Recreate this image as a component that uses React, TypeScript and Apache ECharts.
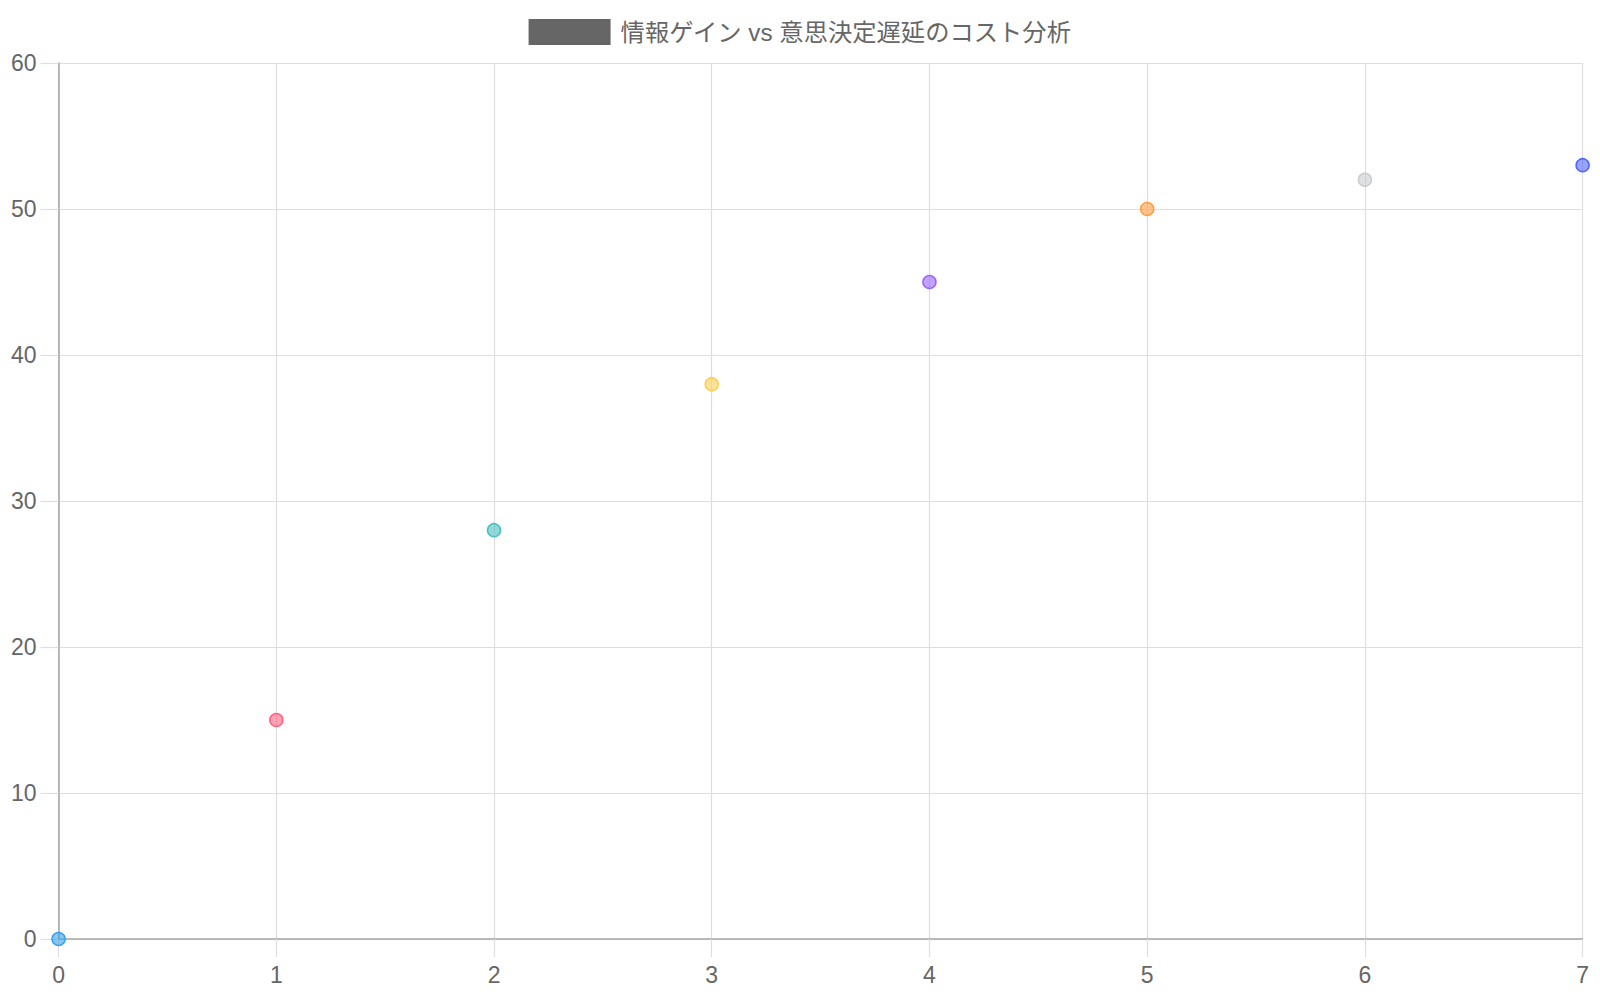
import React, { useRef, useEffect } from 'react'
import * as echarts from 'echarts'

// 情報取得量（x）と意思決定遅延のコスト（y）
const X_VALUES = [0, 1, 2, 3, 4, 5, 6, 7]
const Y_VALUES = [0, 15, 28, 38, 45, 50, 52, 53]

const POINT_COLORS = [
  [54, 162, 235],
  [255, 99, 132],
  [75, 192, 192],
  [255, 206, 86],
  [153, 102, 255],
  [255, 159, 64],
  [201, 203, 207],
  [83, 102, 255],
]

const SERIES_NAME = '情報ゲイン vs 意思決定遅延のコスト分析'

const FONT = "'Liberation Sans', Arial, 'Noto Sans CJK JP', sans-serif"
const TEXT_COLOR = '#666'
const GRID_COLOR = '#dedede'
const AXIS_COLOR = '#a6a6a6'

const App: React.FC = () => {
  const chartRef = useRef<HTMLDivElement>(null)

  useEffect(() => {
    if (!chartRef.current) return
    const chart = echarts.init(chartRef.current, null, { renderer: 'svg' })

    const points = X_VALUES.map((x, i) => {
      const [r, g, b] = POINT_COLORS[i]
      return {
        value: [x, Y_VALUES[i]],
        itemStyle: {
          color: `rgba(${r},${g},${b},0.6)`,
          borderColor: `rgb(${r},${g},${b})`,
          borderWidth: 1.5,
          opacity: 1,
        },
      }
    })

    chart.setOption({
      animation: false,
      backgroundColor: '#fff',
      textStyle: { fontFamily: FONT },
      legend: {
        top: 6,
        left: 'center',
        icon: 'rect',
        itemWidth: 82,
        itemHeight: 26,
        data: [
          {
            name: SERIES_NAME,
            itemStyle: { color: '#666', borderWidth: 0, opacity: 1 },
          },
        ],
        textStyle: {
          color: TEXT_COLOR,
          fontSize: 24.3,
          fontFamily: FONT,
          padding: [0, 0, 0, 5],
        },
      },
      grid: {
        left: 50,
        right: 5,
        top: 55,
        bottom: 53,
        containLabel: false,
      },
      xAxis: {
        type: 'value',
        min: 0,
        max: 7,
        interval: 1,
        axisLine: { show: true, onZero: false, lineStyle: { color: AXIS_COLOR, width: 1.5 } },
        axisTick: { show: true, length: 18, lineStyle: { color: GRID_COLOR, width: 1.2 } },
        splitLine: { show: true, lineStyle: { color: GRID_COLOR, width: 1.2 } },
        axisLabel: { color: TEXT_COLOR, fontSize: 23, margin: 24, fontFamily: FONT },
      },
      yAxis: {
        type: 'value',
        min: 0,
        max: 60,
        interval: 10,
        axisLine: { show: true, onZero: false, lineStyle: { color: AXIS_COLOR, width: 1.5 } },
        axisTick: { show: true, length: 18, lineStyle: { color: GRID_COLOR, width: 1.2 } },
        splitLine: { show: true, lineStyle: { color: GRID_COLOR, width: 1.2 } },
        axisLabel: { color: TEXT_COLOR, fontSize: 23, margin: 22, fontFamily: FONT },
      },
      series: [
        {
          name: SERIES_NAME,
          type: 'scatter',
          symbol: 'circle',
          symbolSize: 13,
          itemStyle: { color: '#666', opacity: 1 },
          data: points,
        },
      ],
    })

    return () => {
      chart.dispose()
    }
  }, [])

  return <div ref={chartRef} style={{ width: '1584px', height: '984px' }} />
}

export default App
